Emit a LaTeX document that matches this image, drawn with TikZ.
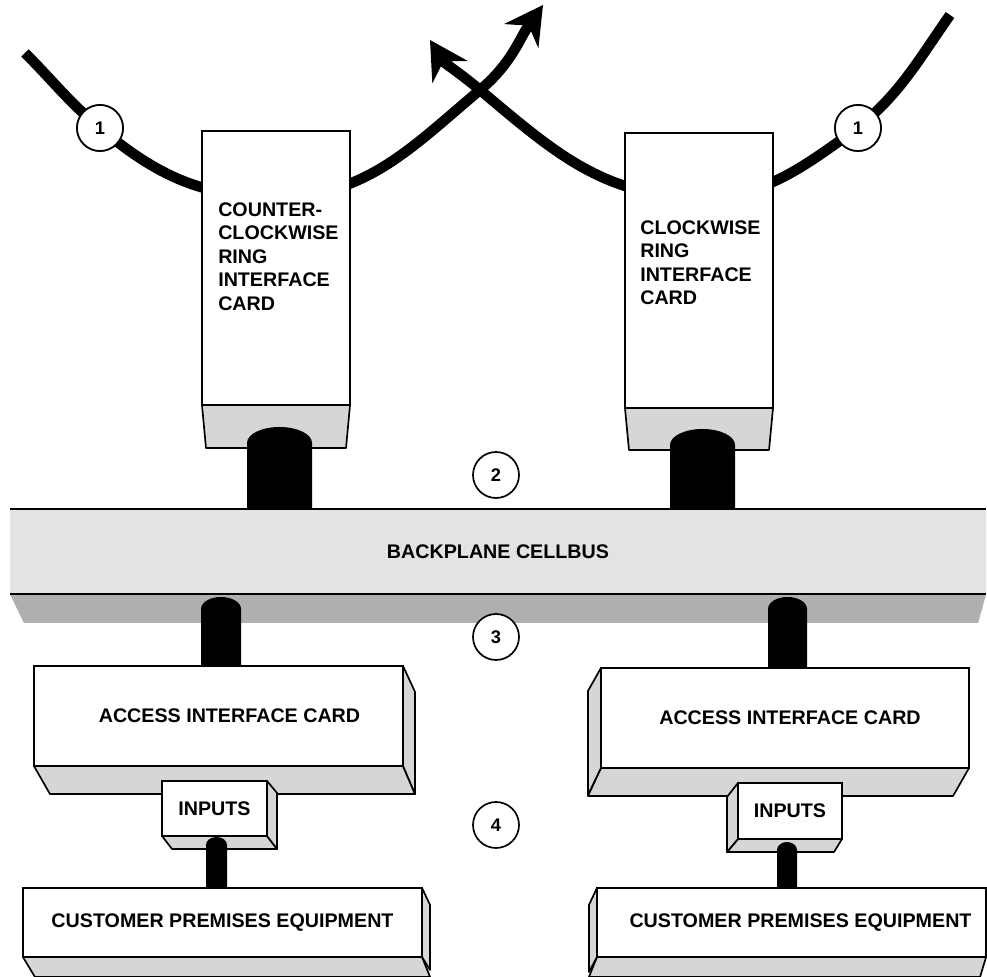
\documentclass[tikz,border=0pt]{standalone}
\usepackage{fontspec}
\setmainfont{Liberation Sans}
\usetikzlibrary{arrows.meta, calc}
\definecolor{facegray}{HTML}{D6D6D6}
\definecolor{buslight}{HTML}{E3E3E3}
\definecolor{busdark}{HTML}{AFAFAF}
\tikzset{
  card/.style     = {draw, fill=white, line width=1.2pt, outer sep=0pt,
                     inner sep=0pt, font=\bfseries\fontsize{14}{16}\selectfont},
  face/.style     = {draw, fill=facegray, line width=1.2pt, line join=round},
  cardtext/.style = {anchor=north west, inner sep=0pt, align=left,
                     font=\bfseries\fontsize{14}{16.8}\selectfont},
  bus/.style      = {fill=buslight, outer sep=0pt, inner sep=0pt,
                     minimum width=24.4cm, minimum height=2.125cm,
                     font=\bfseries\fontsize{14}{16}\selectfont},
  marker/.style   = {draw, circle, fill=white, line width=1.2pt,
                     minimum size=1.15cm, inner sep=0pt,
                     font=\bfseries\fontsize{13}{15}\selectfont},
  ring/.style     = {line width=0.26cm},
  ringarrow/.style= {ring, -{Stealth[length=0.95cm, width=1.05cm, inset=0.32cm, line width=0pt]}},
  plug/.style     = {fill=black},
}
% black plug from a named top point down to a node
\newcommand\plug[4]{%
  \fill[plug] ($(#1)+(-#3,-#4)$) arc[start angle=180, end angle=0,
      x radius=#3, y radius=#4]
    -- ($(#1 |- #2)+(#3,0)$) -- ($(#1 |- #2)+(-#3,0)$) -- cycle;}

\begin{document}
\begin{tikzpicture}[x=0.025cm, y=0.025cm]
  \useasboundingbox (0,0) rectangle (987,977);

  % Markers and ring waypoints
  \node[marker] (c1L) at (100,849) {1};
  \node[marker] (c1R) at (858,849) {1};
  \coordinate (ringLa) at (25,924);
  \coordinate (ringRa) at (950,962);
  \coordinate (ccwdip) at (276,780);
  \coordinate (cwdip)  at (699,780);
  \coordinate (xing)   at (480,887);
  \coordinate (tipL)   at (543,972);
  \coordinate (tipR)   at (430,937);

  % Rings
  \draw[ringarrow] (ringLa) to[out=-45, in=140] (c1L.center)
    to[out=-40, in=180] (ccwdip) to[out=0, in=-140] (xing)
    to[out=40, in=-125] (tipL);
  \draw[ringarrow] (ringRa) to[out=-125, in=40] (c1R.center)
    to[out=-145, in=0] (cwdip) to[out=180, in=-40] (xing)
    to[out=140, in=-58] (tipR);

  % Ring interface cards
  \node[card, minimum width=3.7cm, minimum height=6.85cm]  (ccw) at (276,709) {};
  \node[card, minimum width=3.7cm, minimum height=6.875cm] (cw)  at (699,706.5) {};
  \node[cardtext] (ccwtxt) at (218,775)
    {COUNTER-\\CLOCKWISE\\RING\\INTERFACE\\CARD};
  \node[cardtext] (cwtxt) at (640,757)
    {CLOCKWISE\\RING\\INTERFACE\\CARD};
  \draw[face] (ccw.south west) -- (ccw.south east) -- ++(-4,-43)
    -- ($(ccw.south west)+(4,-43)$) -- cycle;
  \draw[face] (cw.south west) -- (cw.south east) -- ++(-4,-42)
    -- ($(cw.south west)+(4,-42)$) -- cycle;

  % Backplane
  \node[bus] (bus) at (498,425.5) {BACKPLANE CELLBUS};
  \fill[busdark] (bus.south west) -- (bus.south east) -- ++(-8,-29)
    -- ($(bus.south west)+(14,-29)$) -- cycle;
  \draw[line width=1.2pt] (bus.north west) -- (bus.north east)
    (bus.south west) -- (bus.south east);

  \coordinate (pA) at (279.5,550);
  \coordinate (pB) at (702.5,548);
  \plug{pA}{bus.north}{32.5}{16}
  \plug{pB}{bus.north}{32.5}{16}

  % Access interface cards
  \node[card, minimum width=9.225cm, minimum height=2.5cm] (aicL) at (218.5,261)
    {\hspace*{0.55cm}ACCESS INTERFACE CARD};
  \node[card, minimum width=9.2cm, minimum height=2.5cm] (aicR) at (785,259)
    {\hspace*{0.25cm}ACCESS INTERFACE CARD};
  \draw[face] (aicL.south west) -- (aicL.south east) -- ++(12,-28)
    -- ($(aicL.south west)+(16,-28)$) -- cycle;
  \draw[face] (aicL.north east) -- ++(12,-26) -- ++(0,-102)
    -- (aicL.south east) -- cycle;
  \draw[face] (aicR.south west) -- (aicR.south east) -- ++(-16,-28)
    -- ($(aicR.south west)+(-13,-28)$) -- cycle;
  \draw[face] (aicR.north west) -- ++(-13,-23) -- ++(0,-104)
    -- (aicR.south west) -- cycle;

  \coordinate (pC) at (221,380);
  \coordinate (pD) at (787.5,380);
  \plug{pC}{aicL.north}{20}{12}
  \plug{pD}{aicR.north}{19.5}{12}

  % Inputs
  \node[card, minimum width=2.625cm, minimum height=1.375cm] (inL) at (214.5,168.5) {INPUTS};
  \node[card, minimum width=2.6cm, minimum height=1.4cm]     (inR) at (790,166) {INPUTS};
  \draw[face] (inL.south west) -- (inL.south east) -- ++(10,-13)
    -- ($(inL.south west)+(10,-13)$) -- cycle;
  \draw[face] (inL.north east) -- ++(10,-12) -- ++(0,-56)
    -- (inL.south east) -- cycle;
  \draw[face] (inR.south west) -- (inR.south east) -- ++(-8,-13)
    -- ($(inR.south west)+(-11,-13)$) -- cycle;
  \draw[face] (inR.north west) -- ++(-11,-14) -- ++(0,-55)
    -- (inR.south west) -- cycle;

  % Customer premises equipment
  \node[card, minimum width=9.975cm, minimum height=1.725cm] (cpeL) at (222.5,54.5)
    {CUSTOMER PREMISES EQUIPMENT};
  \node[card, minimum width=9.725cm, minimum height=1.725cm] (cpeR) at (791.5,54.5)
    {\hspace*{0.45cm}CUSTOMER PREMISES EQUIPMENT};
  \draw[face] (cpeL.south west) -- (cpeL.south east) -- ++(8,-20)
    -- ($(cpeL.south west)+(12,-20)$) -- cycle;
  \draw[face] (cpeL.north east) -- ++(8,-17) -- ++(0,-65)
    -- (cpeL.south east) -- cycle;
  \draw[face] (cpeR.south west) -- (cpeR.south east) -- ++(-6,-20)
    -- ($(cpeR.south west)+(-8,-20)$) -- cycle;
  \draw[face] (cpeR.north west) -- ++(-8,-17) -- ++(0,-67)
    -- (cpeR.south west) -- cycle;

  \coordinate (pE) at (216.5,140);
  \coordinate (pF) at (787,135);
  \plug{pE}{cpeL.north}{10.5}{8}
  \plug{pF}{cpeR.north}{10}{8}

  % Markers on top
  \node[marker] at (c1L) {1};
  \node[marker] at (c1R) {1};
  \node[marker] (c2) at (496,502) {2};
  \node[marker] (c3) at (496,340) {3};
  \node[marker] (c4) at (496,152) {4};
\end{tikzpicture}
\end{document}
